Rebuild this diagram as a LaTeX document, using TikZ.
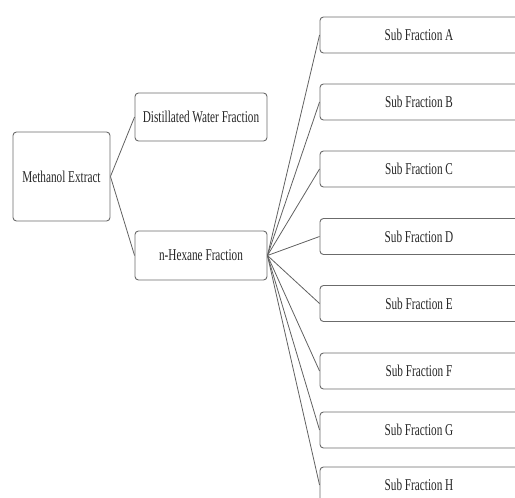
\documentclass[tikz,border=0pt]{standalone}
\usepackage{fontspec}
\setmainfont{Liberation Serif}[FakeStretch=0.68]
\begin{document}
\begin{tikzpicture}[x=1pt,y=-1pt,
  box/.style={draw=black!58,line width=0.9pt,rounded corners=3.5pt,fill=white,
    inner sep=0pt,font=\fontsize{16.5}{18}\selectfont,text=black!85},
  sub/.style={box,minimum width=210pt,minimum height=36pt},
  link/.style={draw=black!62,line width=0.8pt}]
\useasboundingbox (0,0) rectangle (515,498);
\clip (0,0) rectangle (515,498);
\node[box,minimum width=97pt,minimum height=89pt] (me) at (61.5,176.5) {Methanol Extract};
\node[box,minimum width=132pt,minimum height=48pt] (dw) at (201,117) {Distillated Water Fraction};
\node[box,minimum width=132pt,minimum height=49pt] (nh) at (201,255.5) {n-Hexane Fraction};
\node[sub] (sa) at (425,35) {};
\node[sub] (sb) at (425,102) {};
\node[sub] (sc) at (425,169) {};
\node[sub] (sd) at (425,236.5) {};
\node[sub] (se) at (425,303.5) {};
\node[sub] (sf) at (425,371) {};
\node[sub] (sg) at (425,430) {};
\node[sub] (sh) at (425,485) {};
\foreach \n/\t in {sa/A,sb/B,sc/C,sd/D,se/E,sf/F,sg/G,sh/H}
  \node[font=\fontsize{16.5}{18}\selectfont,text=black!85,inner sep=0pt] at ([xshift=-6pt]\n.center) {Sub Fraction \t};
\draw[link] (me.east) -- (dw.west);
\draw[link] (me.east) -- (nh.west);
\foreach \n in {sa,sb,sc,sd,se,sf,sg,sh}
  \draw[link] (nh.east) -- (\n.west);
\end{tikzpicture}
\end{document}
